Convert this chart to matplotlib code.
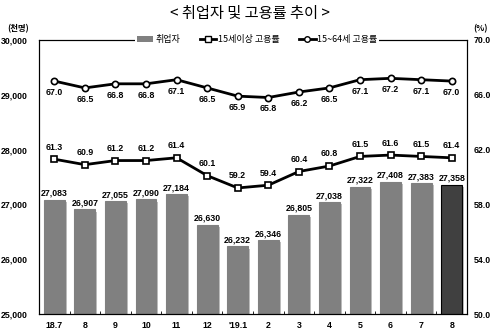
import matplotlib.pyplot as plt
import matplotlib.patheffects as pe
from matplotlib.lines import Line2D
from matplotlib.patches import Patch
import numpy as np

plt.rcParams['font.family'] = ['Noto Sans CJK KR', 'DejaVu Sans']

# 월별 취업자(천명)와 고용률(%)
months = ['18.7', '8', '9', '10', '11', '12', "'19.1", '2', '3', '4', '5', '6', '7', '8']
employed = [27083, 26907, 27055, 27090, 27184, 26630, 26232, 26346, 26805, 27038, 27322, 27408, 27383, 27358]
rate_15over = [61.3, 60.9, 61.2, 61.2, 61.4, 60.1, 59.2, 59.4, 60.4, 60.8, 61.5, 61.6, 61.5, 61.4]
rate_15_64 = [67.0, 66.5, 66.8, 66.8, 67.1, 66.5, 65.9, 65.8, 66.2, 66.5, 67.1, 67.2, 67.1, 67.0]

num = dict(fontsize=6.3, fontweight='bold', family='Liberation Sans')

fig = plt.figure(figsize=(5, 3.33), dpi=100)
ax = fig.add_axes([0.078, 0.057, 0.856, 0.823])
ax2 = ax.twinx()

x = np.arange(len(months))
colors = ['#808080'] * (len(months) - 1) + ['#404040']
edges = ['#808080'] * (len(months) - 1) + ['black']
bars = ax.bar(x, employed, width=0.68, color=colors, edgecolor=edges, linewidth=0.8, zorder=2)
for b in bars:
    b.set_path_effects([pe.SimplePatchShadow(offset=(1.5, -1.5), shadow_rgbFace='#b0b0b0', alpha=0.8), pe.Normal()])
for xi, v in zip(x, employed):
    ax.text(xi, v + 40, f'{v:,}', ha='center', va='bottom', **num)

ax.set_xlim(-0.5, len(months) - 0.5)
ax.set_ylim(25000, 30000)
ax.set_yticks(range(25000, 30001, 1000))
ax.set_yticklabels([f'{v:,}' for v in range(25000, 30001, 1000)], **num)
ax.set_xticks(x)
ax.set_xticklabels(months, **num)
ax.set_xticks(np.arange(-0.5, len(months)), minor=True)
ax.tick_params(axis='x', which='major', length=0, pad=5)
ax.tick_params(axis='x', which='minor', length=2.5, direction='in')
ax.tick_params(axis='y', length=0, pad=8)

ax2.plot(x, rate_15over, color='black', lw=2, marker='s', ms=4.5, mfc='white', mec='black', mew=1.2, zorder=3)
ax2.plot(x, rate_15_64, color='black', lw=2, marker='o', ms=4.5, mfc='white', mec='black', mew=1.2, zorder=3)
for xi, v in zip(x, rate_15over):
    ax2.text(xi, v + 0.55, f'{v:.1f}', ha='center', va='bottom', **num)
for xi, v in zip(x, rate_15_64):
    ax2.text(xi, v - 0.5, f'{v:.1f}', ha='center', va='top', **num)
ax2.set_ylim(50, 70)
ax2.set_yticks(np.arange(50, 70.1, 4))
ax2.set_yticklabels([f'{v:.1f}' for v in np.arange(50, 70.1, 4)], **num)
ax2.tick_params(axis='y', length=0, pad=5)

for a in (ax, ax2):
    for s in a.spines.values():
        s.set_linewidth(0.8)

fig.text(0.5, 0.96, '< 취업자 및 고용률 추이 >', ha='center', va='center', fontsize=11)
fig.text(0.037, 0.915, '(천명)', ha='center', va='center', fontsize=6, fontweight='bold')
fig.text(0.962, 0.915, '(%)', ha='center', va='center', fontsize=6, fontweight='bold')

handles = [
    Patch(facecolor='#808080', edgecolor='none'),
    Line2D([], [], color='black', lw=2, marker='s', ms=4, mfc='white', mec='black'),
    Line2D([], [], color='black', lw=2, marker='o', ms=4, mfc='white', mec='black'),
]
labels = ['취업자', '15세이상 고용률', '15~64세 고용률']
leg = ax2.legend(handles, labels, loc='center', bbox_to_anchor=(0.51, 1.0), ncol=3, frameon=True,
                 fontsize=6.5, handlelength=1.8, handletextpad=0.2, columnspacing=2.2,
                 borderpad=0.2, fancybox=False, framealpha=1)
leg.get_frame().set_edgecolor('white')
leg.get_frame().set_linewidth(0)

fig.savefig('out.png', dpi=100)
